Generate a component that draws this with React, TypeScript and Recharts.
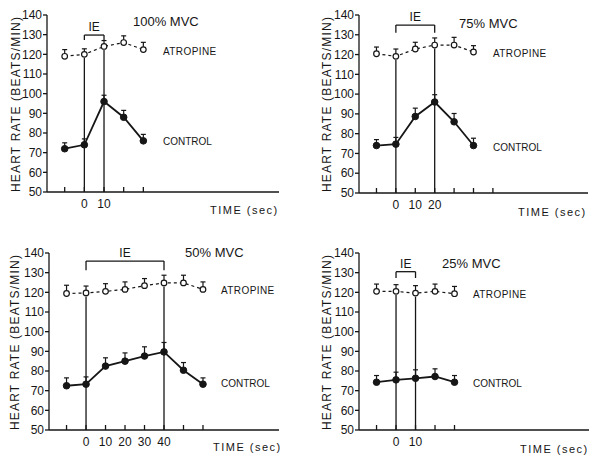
import { LineChart, Line, XAxis, YAxis, ErrorBar, ReferenceLine } from "recharts";

// time points (sec, relative to start of isometric exercise)
const TIME_100 = [-10, 0, 10, 20, 30];
const TIME_75 = [-10, 0, 10, 20, 30, 40];
const TIME_50 = [-10, 0, 10, 20, 30, 40, 50, 60];
const TIME_25 = [-10, 0, 10, 20, 30];

// heart rate, beats/min (mean) and upper error (SE)
const CONTROL_100 = [72, 74, 96, 88, 76];
const CONTROL_100_SE = [3, 3, 3.2, 3.5, 3.3];
const ATROPINE_100 = [119, 120, 124, 126, 122.4];
const ATROPINE_100_SE = [3.4, 2.8, 3, 3.4, 3.7];

const CONTROL_75 = [74, 74.7, 88.7, 96, 86, 74];
const CONTROL_75_SE = [3, 3.4, 4.2, 3.7, 4.2, 3.7];
const ATROPINE_75 = [120.4, 119.1, 122.8, 124.8, 124.8, 121.3];
const ATROPINE_75_SE = [3.4, 3.7, 3.4, 3.6, 3.9, 3.2];

const CONTROL_50 = [72.5, 73.3, 82.5, 85, 87.6, 89.7, 80.4, 73.3];
const CONTROL_50_SE = [4, 3.7, 4.2, 4.2, 4.7, 4.8, 3.9, 3.2];
const ATROPINE_50 = [119.4, 119.7, 120.5, 121.5, 123.4, 124.8, 124.8, 121.5];
const ATROPINE_50_SE = [4.2, 3.5, 3.9, 3.8, 3.6, 3.9, 3.9, 3.8];

const CONTROL_25 = [74.3, 75.5, 76.3, 77.2, 74.3];
const CONTROL_25_SE = [3.4, 3.9, 4.3, 3.9, 3.4];
const ATROPINE_25 = [120.5, 120.5, 119.6, 120.5, 119.3];
const ATROPINE_25_SE = [3.7, 3.4, 3.8, 3.7, 3.7];

const Y_TICKS = [50, 60, 70, 80, 90, 100, 110, 120, 130, 140];
const X_TICKS_100 = [-10, 0, 10, 20, 30];
const X_TICKS_75 = [-10, 0, 10, 20, 30, 40, 50];
const X_TICKS_50 = [-10, 0, 10, 20, 30, 40, 50, 60];
const X_TICKS_25 = [-10, 0, 10, 20, 30];
const X_LABELS_100 = [0, 10];
const X_LABELS_75 = [0, 10, 20];
const X_LABELS_50 = [0, 10, 20, 30, 40];
const X_LABELS_25 = [0, 10];

// isometric exercise window: [start, end, bracket height, leg bottom]
const IE_100 = [0, 10, 129.8, 127.3];
const IE_75 = [0, 20, 134.9, 131];
const IE_50 = [0, 40, 135.9, 131.2];
const IE_25 = [0, 10, 130.5, 127.3];

const INK = "#161616";
const FONT = "'Liberation Sans', Arial, sans-serif";

const PANELS = [
  { time: TIME_100, ctl: CONTROL_100, ctlSe: CONTROL_100_SE, atr: ATROPINE_100, atrSe: ATROPINE_100_SE, ticks: X_TICKS_100, labels: X_LABELS_100, ie: IE_100 },
  { time: TIME_75, ctl: CONTROL_75, ctlSe: CONTROL_75_SE, atr: ATROPINE_75, atrSe: ATROPINE_75_SE, ticks: X_TICKS_75, labels: X_LABELS_75, ie: IE_75 },
  { time: TIME_50, ctl: CONTROL_50, ctlSe: CONTROL_50_SE, atr: ATROPINE_50, atrSe: ATROPINE_50_SE, ticks: X_TICKS_50, labels: X_LABELS_50, ie: IE_50 },
  { time: TIME_25, ctl: CONTROL_25, ctlSe: CONTROL_25_SE, atr: ATROPINE_25, atrSe: ATROPINE_25_SE, ticks: X_TICKS_25, labels: X_LABELS_25, ie: IE_25 },
];

// chart boxes on the page
const BOXES = [
  { left: 7, top: 5, width: 277, height: 212 },
  { left: 319, top: 5, width: 274, height: 213 },
  { left: 9, top: 243, width: 275, height: 212 },
  { left: 319, top: 243, width: 275, height: 212 },
];

// annotation text, page coordinates
const NOTES = [
  { title: "100% MVC", tx: 133, ty: 26, ax: 163, ay: 55, cy: 145, timeX: 210, timeY: 214, yx: 16, yy: 104 },
  { title: "75% MVC", tx: 459, ty: 28, ax: 493, ay: 57, cy: 151, timeX: 518, timeY: 216, yx: 327, yy: 104 },
  { title: "50% MVC", tx: 185, ty: 257, ax: 221, ay: 294, cy: 387, timeX: 213, timeY: 451, yx: 15, yy: 342 },
  { title: "25% MVC", tx: 442, ty: 268, ax: 473, ay: 298, cy: 387, timeX: 520, timeY: 453, yx: 327, yy: 342 },
];

function Panel({ p, box }: { p: (typeof PANELS)[number]; box: (typeof BOXES)[number] }) {
  const data = p.time.map((t, i) => ({
    t,
    control: p.ctl[i],
    controlErr: [0, p.ctlSe[i]],
    atropine: p.atr[i],
    atropineErr: [0, p.atrSe[i]],
  }));
  const [s, e, by, leg] = p.ie;
  const atrAt = (x: number) => p.atr[p.time.indexOf(x)] - 1.8;

  return (
    <div style={{ position: "absolute", left: box.left, top: box.top }}>
      <LineChart
        width={box.width}
        height={box.height}
        data={data}
        margin={{ top: 10, right: 5, bottom: 0, left: 0 }}
      >
        <XAxis
          dataKey="t"
          type="number"
          domain={[-19, 99]}
          ticks={p.ticks}
          tickFormatter={(v: number) => (p.labels.includes(v) ? String(v) : "")}
          tickSize={-5}
          tickMargin={12}
          height={25}
          stroke={INK}
          strokeWidth={1.3}
          tick={{ fill: INK, fontSize: 12, fontFamily: FONT }}
          interval={0}
        />
        <YAxis
          type="number"
          domain={[50, 140]}
          ticks={Y_TICKS}
          width={40}
          tickSize={4}
          tickMargin={1}
          stroke={INK}
          strokeWidth={1.3}
          tick={{ fill: INK, fontSize: 12, fontFamily: FONT }}
          interval={0}
        />
        <ReferenceLine segment={[{ x: s, y: 50 }, { x: s, y: atrAt(s) }]} stroke={INK} strokeWidth={1.3} />
        <ReferenceLine segment={[{ x: e, y: 50 }, { x: e, y: atrAt(e) }]} stroke={INK} strokeWidth={1.3} />
        <ReferenceLine segment={[{ x: s, y: by }, { x: s, y: leg }]} stroke={INK} strokeWidth={1.3} />
        <ReferenceLine segment={[{ x: e, y: by }, { x: e, y: leg }]} stroke={INK} strokeWidth={1.3} />
        <ReferenceLine
          segment={[{ x: s, y: by }, { x: e, y: by }]}
          stroke={INK}
          strokeWidth={1.3}
          label={{ value: "IE", position: "top", offset: 4, fill: INK, fontSize: 12, fontFamily: FONT }}
        />
        <Line
          dataKey="atropine"
          type="linear"
          stroke={INK}
          strokeWidth={1.2}
          strokeDasharray="3 3"
          dot={{ r: 2.8, fill: "#fff", stroke: INK, strokeWidth: 1.2, strokeDasharray: "0" }}
          activeDot={false}
          isAnimationActive={false}
        >
          <ErrorBar dataKey="atropineErr" direction="y" width={2.5} stroke={INK} strokeWidth={1.2} />
        </Line>
        <Line
          dataKey="control"
          type="linear"
          stroke={INK}
          strokeWidth={1.8}
          dot={{ r: 3.3, fill: INK, stroke: INK, strokeWidth: 1 }}
          activeDot={false}
          isAnimationActive={false}
        >
          <ErrorBar dataKey="controlErr" direction="y" width={2.5} stroke={INK} strokeWidth={1.2} />
        </Line>
      </LineChart>
    </div>
  );
}

export default function App() {
  return (
    <div
      style={{
        position: "absolute",
        left: 0,
        top: 0,
        width: 600,
        height: 461,
        background: "#fff",
        overflow: "hidden",
      }}
    >
      {PANELS.map((p, i) => (
        <Panel key={i} p={p} box={BOXES[i]} />
      ))}
      <svg
        width={600}
        height={461}
        style={{ position: "absolute", left: 0, top: 0, pointerEvents: "none" }}
        fontFamily={FONT}
        fill={INK}
      >
        {NOTES.map((n, i) => (
          <g key={i}>
            <text x={n.tx} y={n.ty} fontSize={13}>{n.title}</text>
            <text x={n.ax} y={n.ay} fontSize={10} letterSpacing={0.4}>ATROPINE</text>
            <text x={n.ax} y={n.cy} fontSize={10}>CONTROL</text>
            <text x={n.timeX} y={n.timeY} fontSize={11} letterSpacing={1.5}>TIME (sec)</text>
            <text
              transform={`translate(${n.yx},${n.yy}) rotate(-90)`}
              textAnchor="middle"
              dominantBaseline="central"
              fontSize={12}
              letterSpacing={1.2}
            >
              HEART  RATE (BEATS/MIN)
            </text>
          </g>
        ))}
      </svg>
    </div>
  );
}
